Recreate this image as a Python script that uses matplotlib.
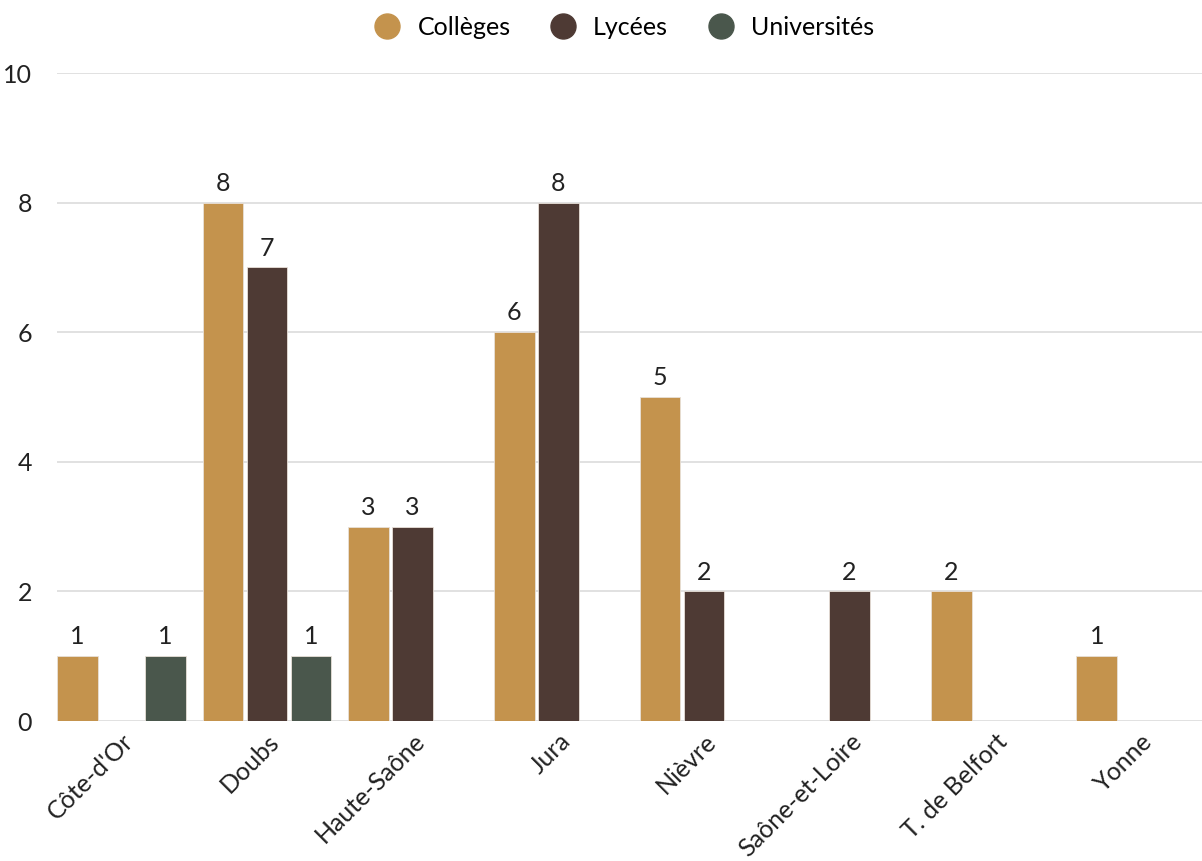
import matplotlib.pyplot as plt
import numpy as np
from matplotlib.lines import Line2D

plt.rcParams['font.family'] = ['Lato', 'DejaVu Sans']

# data
categories = ['Côte-d\'Or', 'Doubs', 'Haute-Saône', 'Jura', 'Nièvre',
              'Saône-et-Loire', 'T. de Belfort', 'Yonne']
colleges = [1, 8, 3, 6, 5, 0, 2, 1]
lycees = [0, 7, 3, 8, 2, 2, 0, 0]
universites = [1, 1, 0, 0, 0, 0, 0, 0]

series = [('Collèges', colleges, '#c4934d'),
          ('Lycées', lycees, '#4e3a34'),
          ('Universités', universites, '#4a574c')]

fig = plt.figure(figsize=(12.02, 8.61), dpi=100)
ax = fig.add_axes([0.0474, 0.1626, 0.9526, 0.7526])

x = np.arange(len(categories))
step = 0.302
width = 0.28
for i, (name, vals, col) in enumerate(series):
    pos = x + (i - 1) * step
    vals = np.array(vals)
    mask = vals > 0
    ax.bar(pos[mask], vals[mask], width, color=col,
           edgecolor='#e8e0d8', linewidth=0.6, zorder=3)
    for p, v in zip(pos[mask], vals[mask]):
        ax.text(p, v + 0.12, str(v), ha='center', va='bottom',
                fontsize=18, color='#222222')

ax.set_xlim(-0.442, 7.42)
ax.set_ylim(0, 10)
ax.set_yticks([0, 2, 4, 6, 8, 10])
ax.grid(axis='y', color='#dcdcdc', linewidth=1.2, zorder=0)
ax.set_axisbelow(True)
for s in ax.spines.values():
    s.set_visible(False)
ax.tick_params(axis='both', length=0, labelsize=18, labelcolor='#222222')
ax.tick_params(axis='y', pad=18)
ax.set_xticks(x)
ax.set_xticklabels(categories, rotation=45, ha='right',
                   rotation_mode='anchor', fontsize=18)
ax.tick_params(axis='x', pad=6)

handles = [Line2D([], [], marker='o', linestyle='', markersize=18,
                  markerfacecolor=c, markeredgecolor=c) for _, _, c in series]
ax.legend(handles, [n for n, _, _ in series], loc='center',
          bbox_to_anchor=(0.49, 1.07), ncol=3, frameon=False,
          fontsize=18, handletextpad=0.2, columnspacing=1.1)

plt.savefig('out.png', dpi=100)
